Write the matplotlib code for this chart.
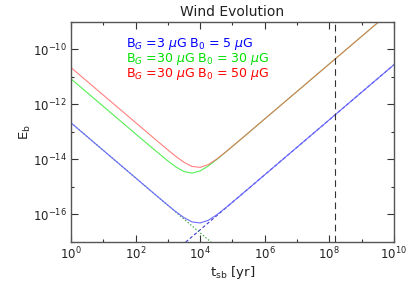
import numpy as np
import matplotlib
matplotlib.use("Agg")
import matplotlib.pyplot as plt
from matplotlib.ticker import NullFormatter

plt.rcParams['font.family'] = ['DejaVu Sans']
plt.rcParams['mathtext.fontset'] = 'dejavusans'

# log10(t_sb / yr) sample points
log_t = [0, 0.5, 1, 1.5, 2, 2.5, 3, 3.25, 3.5, 3.75, 4, 4.25, 4.5, 4.75,
         5, 5.5, 6, 6.5, 7, 7.5, 8, 8.5, 9, 9.5, 10]

# log10(E_b)
blue_logE = [-12.67, -13.17, -13.67, -14.17, -14.67, -15.169, -15.664, -15.903,
             -16.117, -16.272, -16.311, -16.215, -16.028, -15.799, -15.557,
             -15.06, -14.56, -14.06, -13.56, -13.06, -12.56, -12.06, -11.56,
             -11.06, -10.56]
green_logE = [-11.07, -11.57, -12.07, -12.57, -13.07, -13.568, -14.055, -14.275,
              -14.441, -14.499, -14.42, -14.242, -14.018, -13.776, -13.529,
              -13.03, -12.53, -12.03, -11.53, -11.03, -10.53, -10.03, -9.53,
              -9.03, -8.53]
red_logE = [-10.66, -11.16, -11.66, -12.16, -12.66, -13.159, -13.654, -13.892,
            -14.105, -14.256, -14.289, -14.189, -13.999, -13.77, -13.527,
            -13.03, -12.53, -12.03, -11.53, -11.03, -10.53, -10.03, -9.53,
            -9.03, -8.53]

# asymptotes of the blue curve (endpoints at t = 1e0 and 1e10)
asym_log_t = [0, 10]
blue_left_asym = [-12.67, -22.67]
blue_right_asym = [-20.56, -10.56]

t_mark = 1.5e8

x_major = [1e0, 1e2, 1e4, 1e6, 1e8, 1e10]
x_minor = [1e1, 1e3, 1e5, 1e7, 1e9]
y_major = [1e-16, 1e-14, 1e-12, 1e-10]
y_minor = [1e-17, 1e-15, 1e-13, 1e-11, 1e-9]

legend_labels = [r"B$_G$ =3 $\mu$G B$_0$ = 5 $\mu$G",
                 r"B$_G$ =30 $\mu$G B$_0$ = 30 $\mu$G",
                 r"B$_G$ =30 $\mu$G B$_0$ = 50 $\mu$G"]
legend_colors = ['#0000ff', '#00e000', '#ff0000']

fig = plt.figure(figsize=(4.15, 2.88), dpi=100)
ax = fig.add_axes([0.171, 0.160, 0.778, 0.764])

t = 10.0 ** np.array(log_t)
ta = 10.0 ** np.array(asym_log_t)

ax.plot(ta, 10.0 ** np.array(blue_left_asym), color='#2a9a2a', lw=0.8,
        linestyle=(0, (1.2, 1.8)))
ax.plot(ta, 10.0 ** np.array(blue_right_asym), color='#3b3bd0', lw=0.8,
        linestyle=(0, (3, 2)))
ax.plot(t, 10.0 ** np.array(blue_logE), color='#6a6aff', lw=0.8)
ax.plot(t, 10.0 ** np.array(green_logE), color='#55ee55', lw=0.8)
ax.plot(t, 10.0 ** np.array(red_logE), color='#ff5555', lw=0.8, alpha=0.75)

ax.axvline(t_mark, color='#333333', lw=0.8, linestyle=(0, (6, 4)))

ax.set_xscale('log')
ax.set_yscale('log')
ax.set_xlim(1e0, 1e10)
ax.set_ylim(1e-17, 1e-9)

ax.set_xticks(x_major)
ax.set_xticks(x_minor, minor=True)
ax.set_yticks(y_major)
ax.set_yticks(y_minor, minor=True)
ax.xaxis.set_minor_formatter(NullFormatter())
ax.yaxis.set_minor_formatter(NullFormatter())

ax.tick_params(which='both', direction='in', top=True, right=True,
               colors='#333333', labelcolor='#222222', labelsize=8.5, pad=3)
ax.tick_params(which='major', length=5, width=0.8)
ax.tick_params(which='minor', length=2.5, width=0.8)
for s in ax.spines.values():
    s.set_color('#555555')
    s.set_linewidth(1.0)

ax.set_xlabel(r"t$_{\rm sb}$ [yr]", fontsize=9.5, color='#222222', labelpad=1)
ax.set_ylabel(r"E$_{\rm b}$", fontsize=9.5, color='#222222', labelpad=0)
ax.set_title("Wind Evolution", fontsize=10, color='#222222', pad=4)

for i, (lab, col) in enumerate(zip(legend_labels, legend_colors)):
    ax.text(0.17, 0.90 - i * 0.068, lab, color=col, fontsize=9,
            transform=ax.transAxes, va='center', ha='left')

fig.savefig('out.png', dpi=100)
